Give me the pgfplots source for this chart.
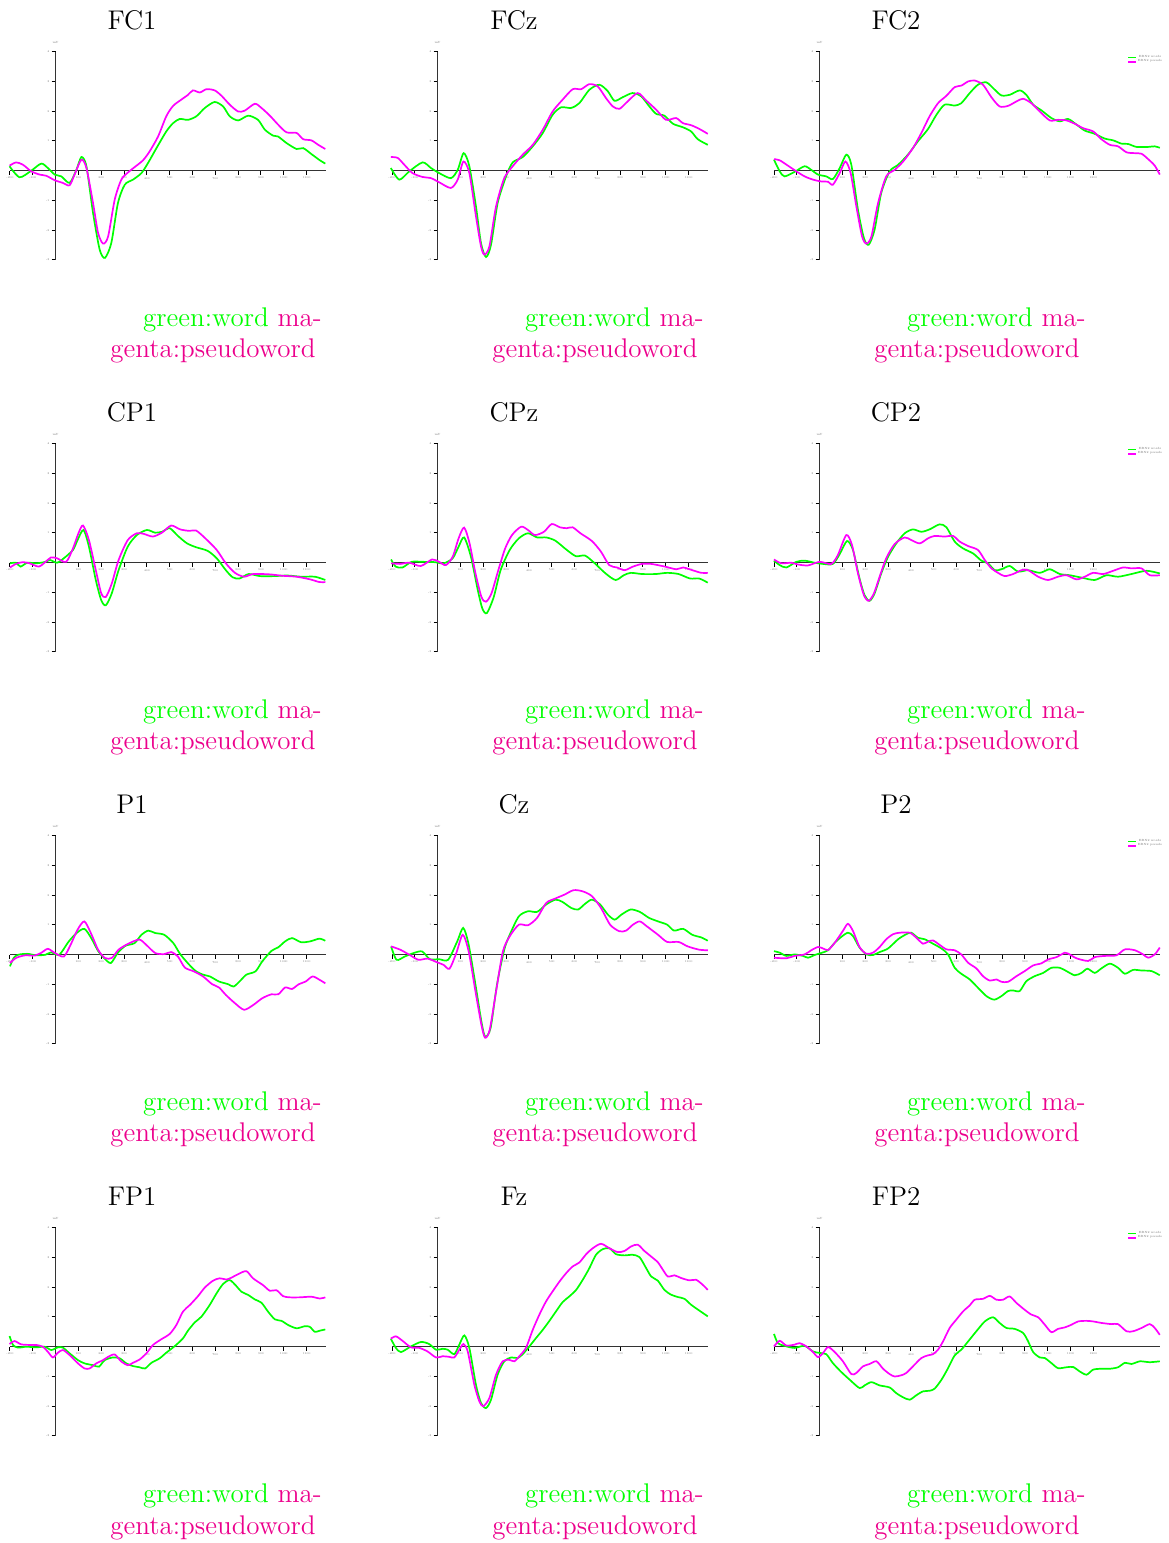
\documentclass[border=0pt]{standalone}
\usepackage{pgfplots}
\pgfplotsset{compat=1.18}
\usepackage{xcolor}
\definecolor{wordgreen}{RGB}{0,255,0}
\definecolor{pseudomag}{RGB}{255,0,255}
\pgfplotsset{erp/.style={
  scale only axis, anchor=south west,
  height=104.15pt,
  xmin=-200, ymin=-3, ymax=4,
  axis lines=middle,
  axis line style={black!80, line width=0.7pt, -},
  xtick={-200,-100,...,1200},
  ytick={-3,-2,...,4},
  /pgf/number format/assume math mode=true,
  /pgf/number format/1000 sep={},
  tick align=outside,
  tick style={black, line width=0.5pt},
  major tick length=2pt,
  tick label style={font=\fontsize{1.4}{1.5}\selectfont, text=black!55, inner sep=1pt},
  every axis plot/.append style={line width=0.85pt, smooth, tension=0.45},
  legend style={at={(0.915,0.99)}, anchor=north west, draw=none, fill=none,
     font=\fontsize{1.5}{1.8}\selectfont, text=black!55, inner sep=0pt,
     row sep=-1.5pt, nodes={inner sep=0.5pt}},
  legend image code/.code={\draw[#1, line width=0.7pt] (0pt,0pt) -- (4pt,0pt);},
  clip=false,
}}
\newcommand{\panel}[7]{%
\begin{axis}[erp, at={(#1,#2)}, width=#3, xmax=#4, #7]
\addplot[color=wordgreen] coordinates {#5};
\addplot[color=pseudomag] coordinates {#6};
\node[font=\fontsize{1.5}{1.5}\selectfont, text=black!55, above] at (axis cs:0,4.03) {mV};
\end{axis}}
\newcommand{\labels}[3]{% #1 col, #2 row, #3 title
\pgfmathsetmacro{\cx}{66+191*#1}\pgfmathsetmacro{\ty}{756.5-196*#2}
\pgfmathsetmacro{\rx}{161+191*#1}\pgfmathsetmacro{\lx}{55+191*#1}
\pgfmathsetmacro{\la}{608-196*#2}\pgfmathsetmacro{\lb}{592.5-196*#2}
\node[anchor=base, inner sep=0pt, font=\fontsize{13.5}{15.5}\selectfont] at (\cx pt,\ty pt) {#3};
\node[anchor=base east, inner sep=0pt, font=\fontsize{13.5}{15.5}\selectfont] at (\rx pt,\la pt) {\textcolor{green}{green:word} \textcolor{magenta}{ma-}};
\node[anchor=base west, inner sep=0pt, font=\fontsize{13.5}{15.5}\selectfont] at (\lx pt,\lb pt) {\textcolor{magenta}{genta:pseudoword}};
}
\begin{document}
\begin{tikzpicture}
\useasboundingbox (0,0) rectangle (584pt,771.5pt);
% ---------- Row 1 ----------
\panel{5pt}{641.5pt}{158pt}{1185}
{(-202,0.15)(-158,-0.22)(-107,0.0)(-63,0.24)(-34,0.09)(-4,-0.13)(25,-0.19)(61,-0.41)(91,0.03)(113,0.46)(135,0.15)(164,-1.42)(193,-2.65)(216,-2.93)(244,-2.43)(273,-1.09)(303,-0.47)(339,-0.30)(376,-0.08)(405,0.26)(442,0.76)(485,1.32)(515,1.60)(544,1.74)(580,1.71)(617,1.83)(654,2.11)(697,2.31)(734,2.16)(763,1.83)(800,1.69)(844,1.85)(887,1.71)(917,1.38)(953,1.18)(975,1.15)(1012,0.93)(1056,0.73)(1085,0.76)(1121,0.56)(1158,0.35)(1182,0.24)}
{(-202,0.17)(-173,0.28)(-143,0.20)(-107,-0.02)(-70,-0.13)(-41,-0.17)(-4,-0.32)(32,-0.41)(61,-0.49)(83,-0.13)(113,0.37)(135,0.09)(164,-1.09)(186,-2.09)(208,-2.45)(230,-2.21)(259,-0.97)(288,-0.30)(317,-0.06)(346,0.12)(383,0.35)(412,0.65)(449,1.15)(485,1.83)(515,2.18)(551,2.39)(580,2.55)(602,2.70)(632,2.63)(661,2.74)(697,2.70)(727,2.52)(763,2.22)(800,1.99)(829,2.02)(873,2.25)(902,2.11)(939,1.85)(975,1.55)(1012,1.29)(1056,1.27)(1085,1.06)(1121,1.02)(1151,0.87)(1182,0.73)}
{}
\panel{196pt}{641.5pt}{158pt}{1185}
{(-205,0.09)(-168,-0.30)(-124,-0.02)(-66,0.28)(-29,0.09)(7,-0.08)(58,-0.25)(88,0.03)(114,0.59)(139,0.15)(168,-1.20)(190,-2.43)(212,-2.90)(234,-2.49)(263,-1.09)(300,-0.19)(329,0.28)(373,0.46)(417,0.82)(461,1.27)(504,1.88)(541,2.13)(585,2.11)(621,2.27)(665,2.72)(709,2.89)(746,2.67)(775,2.35)(811,2.47)(854,2.61)(892,2.50)(928,2.16)(958,1.91)(994,1.85)(1031,1.58)(1075,1.46)(1111,1.32)(1140,1.06)(1184,0.87)}
{(-205,0.46)(-175,0.43)(-146,0.20)(-110,-0.08)(-66,-0.21)(-29,-0.25)(7,-0.39)(58,-0.58)(88,-0.30)(113,0.31)(139,-0.08)(168,-1.53)(190,-2.54)(205,-2.82)(227,-2.54)(256,-1.20)(292,-0.25)(329,0.15)(373,0.54)(417,0.87)(461,1.38)(504,1.99)(548,2.39)(592,2.74)(629,2.74)(665,2.91)(702,2.83)(738,2.44)(768,2.16)(797,2.08)(833,2.33)(877,2.61)(914,2.36)(958,2.05)(1001,1.71)(1045,1.77)(1075,1.60)(1111,1.53)(1148,1.40)(1184,1.24)}
{}
\panel{387pt}{641.5pt}{193pt}{1492}
{(-200,0.37)(-175,-0.02)(-154,-0.19)(-110,-0.04)(-66,0.15)(-37,0.03)(-7,-0.13)(29,-0.19)(58,-0.28)(88,0.09)(117,0.54)(139,0.20)(168,-1.31)(194,-2.26)(215,-2.49)(241,-1.98)(270,-0.75)(307,-0.02)(344,0.20)(387,0.54)(431,0.99)(475,1.40)(512,1.88)(548,2.22)(592,2.19)(621,2.27)(658,2.61)(694,2.89)(731,2.97)(768,2.72)(797,2.53)(833,2.55)(877,2.70)(906,2.55)(936,2.22)(972,2.03)(1016,1.77)(1053,1.66)(1089,1.74)(1126,1.55)(1162,1.35)(1206,1.24)(1250,1.08)(1287,1.02)(1323,0.91)(1352,0.90)(1389,0.80)(1440,0.80)(1469,0.82)(1491,0.77)}
{(-200,0.39)(-175,0.35)(-139,0.17)(-102,-0.02)(-66,-0.19)(-29,-0.30)(7,-0.36)(37,-0.37)(58,-0.47)(88,-0.08)(113,0.31)(136,-0.08)(161,-1.20)(186,-2.21)(205,-2.45)(227,-2.21)(256,-1.09)(292,-0.19)(329,0.03)(366,0.31)(409,0.76)(446,1.27)(482,1.83)(519,2.27)(556,2.52)(592,2.81)(621,2.86)(651,3.00)(680,3.03)(716,2.89)(753,2.47)(789,2.16)(826,2.18)(863,2.33)(892,2.42)(928,2.27)(965,1.99)(1009,1.69)(1045,1.71)(1082,1.69)(1118,1.58)(1155,1.43)(1199,1.32)(1235,1.06)(1272,0.87)(1308,0.82)(1345,0.62)(1382,0.59)(1411,0.57)(1440,0.39)(1469,0.17)(1491,-0.13)}
{legend entries={ERN2 words, ERN2 pseudo}}
% ---------- Row 2 ----------
\panel{5pt}{445.5pt}{158pt}{1185}
{(-200,-0.02)(-174,0)(-154,-0.13)(-124,0)(-84,-0.02)(-44,0.03)(-24,0.09)(6,0)(36,0.15)(76,0.43)(96,0.76)(122,1.10)(146,0.54)(176,-0.58)(200,-1.26)(220,-1.43)(246,-1.03)(276,-0.25)(316,0.54)(356,0.93)(400,1.10)(436,1.01)(466,1.04)(500,1.16)(536,0.90)(576,0.65)(616,0.52)(666,0.40)(706,0.15)(746,-0.25)(776,-0.49)(806,-0.53)(846,-0.38)(896,-0.45)(956,-0.45)(1016,-0.43)(1076,-0.47)(1136,-0.47)(1182,-0.58)}
{(-200,-0.16)(-174,-0.04)(-144,0.02)(-114,-0.02)(-74,-0.13)(-44,0.03)(-20,0.18)(6,0.15)(46,0.03)(76,0.48)(100,0.99)(120,1.25)(146,0.76)(176,-0.25)(200,-1.03)(220,-1.15)(246,-0.70)(276,0.09)(316,0.76)(356,0.99)(386,0.97)(426,0.88)(466,1.01)(506,1.25)(546,1.12)(586,1.07)(616,1.08)(656,0.82)(706,0.43)(746,-0.02)(786,-0.34)(826,-0.47)(866,-0.38)(936,-0.39)(996,-0.44)(1056,-0.47)(1116,-0.56)(1156,-0.65)(1182,-0.65)}
{}
\panel{196pt}{445.5pt}{158pt}{1185}
{(-204,0.11)(-184,-0.13)(-154,-0.16)(-114,0.03)(-64,0.03)(-14,0.02)(26,-0.02)(66,0.15)(92,0.54)(116,0.85)(146,0.20)(176,-0.92)(196,-1.54)(216,-1.69)(246,-1.15)(276,-0.25)(316,0.43)(356,0.82)(396,0.99)(436,0.85)(476,0.85)(516,0.74)(566,0.43)(606,0.22)(646,0.24)(686,0)(736,-0.36)(780,-0.58)(816,-0.42)(846,-0.34)(896,-0.38)(956,-0.38)(1006,-0.34)(1056,-0.38)(1106,-0.53)(1146,-0.53)(1184,-0.67)}
{(-204,-0.02)(-164,-0.04)(-124,0)(-74,-0.11)(-24,0.11)(6,0.03)(36,-0.08)(66,0.20)(92,0.82)(116,1.18)(140,0.65)(166,-0.36)(192,-1.15)(212,-1.31)(236,-1.03)(266,-0.25)(296,0.48)(326,0.93)(366,1.21)(396,1.10)(426,0.93)(466,1.04)(500,1.30)(536,1.19)(566,1.16)(592,1.19)(626,0.99)(676,0.73)(716,0.37)(752,-0.08)(786,-0.16)(820,-0.25)(856,-0.13)(896,-0.04)(936,-0.04)(996,-0.13)(1046,-0.22)(1076,-0.16)(1116,-0.25)(1156,-0.34)(1184,-0.34)}
{}
\panel{387pt}{445.5pt}{193pt}{1492}
{(-200,0.07)(-175,-0.08)(-146,-0.16)(-102,0.03)(-66,0.07)(-22,0)(15,-0.04)(58,-0.04)(88,0.29)(120,0.73)(146,0.43)(175,-0.53)(197,-1.09)(219,-1.28)(241,-1.03)(270,-0.36)(300,0.20)(336,0.65)(373,0.99)(409,1.12)(446,1.04)(482,1.12)(526,1.29)(556,1.19)(592,0.71)(629,0.48)(673,0.31)(709,0.07)(738,-0.02)(768,-0.25)(797,-0.22)(833,-0.11)(870,-0.30)(914,-0.25)(965,-0.34)(1009,-0.22)(1053,-0.38)(1096,-0.42)(1148,-0.50)(1206,-0.58)(1257,-0.42)(1308,-0.47)(1367,-0.38)(1433,-0.27)(1491,-0.36)}
{(-200,0.11)(-168,-0.02)(-124,0)(-95,-0.06)(-51,-0.09)(0,0.03)(51,-0.04)(80,0.26)(117,0.93)(142,0.59)(168,-0.36)(194,-1.09)(215,-1.28)(238,-1.03)(263,-0.47)(292,0.15)(329,0.63)(373,0.85)(402,0.76)(439,0.65)(475,0.82)(504,0.90)(548,0.88)(585,0.90)(614,0.71)(651,0.56)(694,0.43)(724,0.09)(753,-0.19)(782,-0.34)(811,-0.45)(848,-0.38)(885,-0.25)(914,-0.25)(958,-0.47)(1001,-0.58)(1045,-0.47)(1082,-0.42)(1126,-0.56)(1162,-0.47)(1199,-0.34)(1243,-0.38)(1287,-0.27)(1330,-0.16)(1367,-0.19)(1411,-0.19)(1447,-0.42)(1491,-0.42)}
{legend entries={ERN2 words, ERN2 pseudo}}
% ---------- Row 3 ----------
\panel{5pt}{249.5pt}{158pt}{1185}
{(-200,-0.39)(-184,-0.11)(-164,0)(-124,0.03)(-84,-0.02)(-44,0)(-20,0.08)(16,0)(56,0.43)(92,0.73)(126,0.87)(156,0.56)(186,0.13)(212,-0.11)(242,-0.28)(272,0.06)(306,0.30)(346,0.39)(376,0.67)(406,0.81)(436,0.73)(476,0.67)(516,0.39)(546,0.02)(586,-0.34)(616,-0.56)(646,-0.67)(676,-0.73)(716,-0.90)(756,-0.99)(780,-1.07)(806,-0.90)(836,-0.67)(876,-0.56)(906,-0.22)(946,0.13)(976,0.25)(1006,0.45)(1036,0.56)(1076,0.42)(1116,0.45)(1156,0.54)(1182,0.47)}
{(-200,-0.28)(-174,-0.11)(-134,-0.02)(-94,-0.03)(-64,0.06)(-34,0.20)(-4,0.06)(36,-0.06)(66,0.34)(96,0.84)(126,1.12)(156,0.70)(186,0.17)(216,-0.11)(246,-0.11)(276,0.17)(316,0.36)(366,0.51)(396,0.34)(436,0.06)(476,0.02)(506,0.09)(536,-0.06)(566,-0.43)(606,-0.56)(646,-0.73)(686,-0.99)(716,-1.10)(746,-1.35)(786,-1.63)(826,-1.85)(866,-1.69)(906,-1.46)(946,-1.33)(976,-1.33)(1006,-1.10)(1036,-1.15)(1066,-0.99)(1096,-0.90)(1126,-0.73)(1156,-0.84)(1182,-0.96)}
{}
\panel{196pt}{249.5pt}{158pt}{1185}
{(-204,0.28)(-180,-0.17)(-144,-0.06)(-104,0.06)(-68,0.11)(-34,-0.15)(6,-0.15)(46,-0.17)(86,0.45)(112,0.90)(136,0.34)(166,-1.01)(192,-2.25)(208,-2.75)(232,-2.47)(260,-1.01)(292,0.17)(316,0.67)(356,1.29)(396,1.46)(436,1.44)(476,1.69)(516,1.85)(546,1.78)(586,1.57)(616,1.52)(646,1.71)(676,1.85)(712,1.69)(746,1.35)(776,1.18)(806,1.35)(846,1.52)(886,1.44)(926,1.24)(966,1.12)(1006,1.01)(1036,0.81)(1076,0.87)(1116,0.67)(1156,0.58)(1184,0.47)}
{(-204,0.28)(-164,0.17)(-124,0)(-84,-0.17)(-44,-0.13)(-4,-0.25)(26,-0.34)(52,-0.47)(82,0.06)(110,0.67)(136,0.11)(166,-1.24)(192,-2.36)(208,-2.79)(228,-2.53)(256,-1.24)(286,0.11)(316,0.62)(356,1.01)(396,0.99)(436,1.24)(476,1.74)(516,1.89)(556,2.02)(596,2.17)(636,2.13)(676,1.97)(716,1.57)(756,1.01)(796,0.79)(826,0.81)(856,1.01)(886,1.12)(916,0.96)(966,0.67)(1006,0.43)(1056,0.43)(1096,0.28)(1146,0.17)(1184,0.15)}
{}
\panel{387pt}{249.5pt}{193pt}{1492}
{(-200,0.12)(-175,0.07)(-146,-0.04)(-110,0.01)(-73,-0.04)(-51,-0.10)(-22,-0.01)(7,0.06)(37,0.15)(66,0.40)(95,0.60)(124,0.74)(146,0.63)(175,0.24)(205,0.01)(234,-0.01)(263,0.09)(300,0.21)(344,0.52)(380,0.69)(402,0.74)(431,0.57)(461,0.52)(497,0.37)(534,0.21)(563,0.01)(592,-0.44)(621,-0.64)(658,-0.83)(694,-1.11)(731,-1.39)(765,-1.51)(797,-1.39)(826,-1.22)(848,-1.20)(877,-1.22)(906,-0.89)(943,-0.72)(980,-0.61)(1016,-0.44)(1053,-0.44)(1082,-0.55)(1118,-0.69)(1148,-0.61)(1174,-0.47)(1206,-0.61)(1235,-0.46)(1272,-0.30)(1308,-0.44)(1338,-0.64)(1374,-0.51)(1411,-0.53)(1455,-0.55)(1491,-0.69)}
{(-200,-0.10)(-146,-0.12)(-110,-0.04)(-66,0.01)(-37,0.15)(-7,0.26)(15,0.21)(37,0.16)(66,0.40)(102,0.80)(124,1.04)(146,0.80)(175,0.26)(205,0.03)(234,0.07)(263,0.26)(292,0.52)(322,0.69)(351,0.74)(395,0.74)(424,0.57)(453,0.37)(475,0.44)(497,0.48)(526,0.33)(556,0.18)(592,0.15)(621,0.01)(651,-0.27)(687,-0.46)(716,-0.72)(746,-0.87)(775,-0.83)(797,-0.91)(826,-0.91)(863,-0.72)(899,-0.55)(936,-0.36)(972,-0.29)(1001,-0.16)(1038,-0.08)(1075,0.07)(1089,0.04)(1126,-0.12)(1177,-0.21)(1206,-0.08)(1250,-0.04)(1301,-0.02)(1338,0.18)(1382,0.15)(1418,0.01)(1440,-0.10)(1469,0.01)(1491,0.24)}
{legend entries={ERN2 words, ERN2 pseudo}}
% ---------- Row 4 ----------
\panel{5pt}{53.5pt}{158pt}{1185}
{(-202,0.36)(-187,0.06)(-165,-0.03)(-129,0)(-85,-0.02)(-48,0)(-19,-0.11)(10,-0.02)(32,-0.03)(61,-0.22)(98,-0.45)(127,-0.56)(164,-0.62)(190,-0.67)(215,-0.45)(251,-0.36)(281,-0.39)(310,-0.56)(339,-0.65)(368,-0.69)(392,-0.73)(420,-0.54)(456,-0.39)(485,-0.20)(522,0.02)(558,0.28)(580,0.54)(610,0.82)(639,1.01)(675,1.40)(705,1.79)(734,2.11)(763,2.24)(792,2.04)(814,1.85)(844,1.74)(873,1.59)(902,1.48)(931,1.18)(961,0.92)(990,0.87)(1019,0.73)(1056,0.62)(1092,0.69)(1114,0.67)(1136,0.50)(1158,0.54)(1182,0.58)}
{(-202,0.09)(-180,0.19)(-151,0.08)(-114,0.06)(-85,0.06)(-56,0)(-34,-0.17)(-12,-0.36)(10,-0.20)(32,-0.11)(61,-0.28)(98,-0.56)(127,-0.73)(149,-0.73)(178,-0.56)(208,-0.45)(230,-0.34)(259,-0.26)(288,-0.50)(317,-0.62)(339,-0.54)(368,-0.43)(398,-0.22)(427,0.06)(463,0.25)(500,0.43)(529,0.73)(558,1.18)(588,1.40)(624,1.70)(654,1.99)(690,2.22)(719,2.30)(749,2.26)(770,2.32)(800,2.44)(836,2.54)(865,2.30)(909,2.07)(939,1.88)(968,1.90)(997,1.70)(1026,1.66)(1070,1.66)(1121,1.68)(1158,1.62)(1182,1.66)}
{}
\panel{196pt}{53.5pt}{158pt}{1185}
{(-205,0.27)(-183,-0.04)(-161,-0.18)(-117,0.01)(-73,0.16)(-37,0.09)(-7,-0.10)(22,-0.07)(44,-0.10)(73,-0.25)(95,0.07)(117,0.38)(139,-0.04)(168,-1.28)(190,-1.89)(212,-2.06)(234,-1.78)(263,-0.94)(292,-0.49)(322,-0.36)(351,-0.38)(373,-0.25)(402,0.01)(431,0.29)(461,0.57)(490,0.87)(519,1.19)(548,1.50)(577,1.69)(607,1.91)(636,2.25)(665,2.64)(694,3.09)(724,3.28)(753,3.31)(782,3.11)(819,3.07)(855,3.09)(885,3.01)(914,2.64)(936,2.36)(965,2.22)(994,1.91)(1023,1.75)(1053,1.67)(1082,1.61)(1111,1.41)(1148,1.21)(1184,1.02)}
{(-205,0.27)(-183,0.35)(-154,0.20)(-117,-0.02)(-80,-0.04)(-44,-0.16)(-7,-0.36)(22,-0.32)(51,-0.34)(73,-0.36)(95,-0.10)(113,0.09)(132,-0.16)(161,-1.28)(183,-1.84)(200,-2.00)(227,-1.72)(256,-0.94)(285,-0.49)(314,-0.44)(336,-0.49)(358,-0.32)(387,-0.04)(417,0.57)(446,1.08)(475,1.52)(504,1.86)(534,2.19)(563,2.47)(592,2.70)(621,2.83)(651,3.11)(680,3.31)(716,3.46)(753,3.31)(789,3.18)(819,3.22)(848,3.37)(877,3.43)(906,3.22)(936,3.03)(965,2.84)(987,2.59)(1009,2.36)(1038,2.40)(1067,2.31)(1104,2.23)(1133,2.25)(1162,2.08)(1184,1.91)}
{}
\panel{387pt}{53.5pt}{193pt}{1492}
{(-200,0.43)(-183,0.12)(-154,0.03)(-110,-0.04)(-66,0.03)(-29,-0.16)(0,-0.21)(29,-0.25)(58,-0.55)(95,-0.85)(132,-1.11)(175,-1.39)(197,-1.30)(227,-1.19)(263,-1.30)(307,-1.37)(336,-1.56)(366,-1.70)(395,-1.78)(424,-1.63)(453,-1.50)(482,-1.48)(504,-1.41)(534,-1.11)(563,-0.72)(592,-0.29)(621,-0.10)(651,0.18)(687,0.52)(724,0.85)(760,0.99)(789,0.80)(819,0.63)(855,0.60)(892,0.46)(914,0.18)(936,-0.18)(965,-0.36)(987,-0.38)(1016,-0.55)(1045,-0.72)(1082,-0.69)(1111,-0.68)(1140,-0.83)(1170,-0.94)(1199,-0.77)(1235,-0.74)(1272,-0.74)(1308,-0.69)(1338,-0.54)(1367,-0.58)(1404,-0.49)(1447,-0.52)(1491,-0.49)}
{(-200,0.01)(-175,0.20)(-146,0.04)(-110,0.07)(-88,0.12)(-58,0.01)(-29,-0.18)(-7,-0.35)(15,-0.21)(37,-0.01)(66,-0.18)(102,-0.49)(139,-0.92)(161,-0.88)(190,-0.66)(219,-0.58)(249,-0.49)(278,-0.74)(307,-0.92)(329,-1.00)(358,-0.96)(380,-0.88)(409,-0.66)(446,-0.38)(475,-0.29)(497,-0.25)(519,-0.10)(541,0.18)(570,0.63)(599,0.91)(629,1.19)(658,1.39)(680,1.58)(716,1.61)(746,1.71)(775,1.58)(804,1.58)(833,1.69)(863,1.47)(899,1.24)(928,1.08)(958,0.99)(987,0.74)(1016,0.49)(1045,0.60)(1075,0.65)(1104,0.74)(1133,0.85)(1170,0.87)(1199,0.85)(1235,0.80)(1279,0.76)(1308,0.76)(1345,0.52)(1374,0.52)(1411,0.63)(1447,0.76)(1469,0.63)(1491,0.40)}
{legend entries={ERN2 words, ERN2 pseudo}}
% ---------- titles and notes ----------
\labels{0}{0}{FC1}\labels{1}{0}{FCz}\labels{2}{0}{FC2}
\labels{0}{1}{CP1}\labels{1}{1}{CPz}\labels{2}{1}{CP2}
\labels{0}{2}{P1}\labels{1}{2}{Cz}\labels{2}{2}{P2}
\labels{0}{3}{FP1}\labels{1}{3}{Fz}\labels{2}{3}{FP2}
\end{tikzpicture}
\end{document}
